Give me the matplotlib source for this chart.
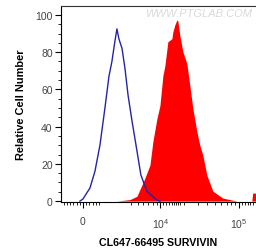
import matplotlib
matplotlib.use("Agg")
import matplotlib.pyplot as plt
import numpy as np

plt.rcParams.update({'font.family': 'Liberation Sans', 'font.size': 7,
                     'mathtext.default': 'regular'})

# isotype control (blue outline)
ctrl_x = [-185, 0, 435, 757, 1094, 1455, 1766, 2012, 2279, 2464, 2661, 2974,
          3305, 3663, 4181, 4901, 5548, 6676, 9059, 9900]
ctrl_y = [0, 1.1, 7, 16, 30, 50, 67, 75, 86, 92.5, 87, 82,
          71, 57, 43, 27, 14, 5.3, 0.5, 0]

# CL647-66495 stained (red filled)
stain_x = [2459, 3911, 4901, 5722, 6275, 7327, 8018, 9059, 9900, 10812, 11469,
           12529, 14098, 14522, 15412, 16345, 16833, 17850, 19504, 21921, 23914,
           26118, 29341, 32054, 34980, 39326, 46852, 62688, 94276, 146000,
           150000, 155000, 165000]
stain_y = [0, 0.8, 2.6, 8.6, 12.3, 19.3, 32, 44.4, 51.3, 67.4, 72.7,
           85.6, 87.2, 90.9, 94.7, 97.3, 96.8, 88.8, 80.2, 73.8, 62,
           49.7, 37.4, 29.9, 24.6, 13.9, 5.3, 1.6, 0, 0,
           4.3, 4.3, 4.3]

W = 2120.0
def fwd(x):
    return np.arcsinh(np.asarray(x) / W) / np.log(10)
def inv(y):
    return W * np.sinh(np.asarray(y) * np.log(10))

fig = plt.figure(figsize=(2.56, 2.51), dpi=100)
ax = fig.add_axes([61/256, 48/251, 195/256, 196/251])
ax.set_xscale('function', functions=(fwd, inv))

ax.fill_between(stain_x, stain_y, 0, color='#ff0000', lw=0)
ax.plot(ctrl_x, ctrl_y, color='#2424a8', lw=1.0)

ax.set_xlim(-1452, 165000)
ax.set_ylim(-0.5, 104.8)

ax.set_xticks([0, 1e4, 1e5])
ax.set_xticklabels(['0', '$10^4$', '$10^5$'])
minor = list(range(-1200, 1001, 200)) + [2000*i/2 for i in range(4, 19)] + \
        [10000*i for i in range(2, 10)] + [1e5 + 10000*i for i in range(1, 6)]
ax.set_xticks(minor, minor=True)
ax.set_yticks(range(0, 101, 20))
ax.set_yticks(range(0, 101, 5), minor=True)

ax.tick_params(axis='both', which='major', length=4, width=0.8,
               labelcolor='#444444', labelsize=7.5, pad=2)
ax.tick_params(axis='both', which='minor', length=2, width=0.6)
ax.tick_params(axis='x', which='major', pad=6)

ax.spines['right'].set_visible(False)
ax.spines['top'].set_color('#333333')

ax.set_xlabel('CL647-66495 SURVIVIN', fontweight='bold', fontsize=7.7, labelpad=5)
ax.set_ylabel('Relative Cell Number', fontweight='bold', fontsize=7.9, labelpad=7)

ax.text(0.98, 0.965, 'WWW.PTGLAB.COM', transform=ax.transAxes, ha='right',
        va='center', color='#dadada', fontsize=8, style='italic')

fig.savefig('out.png', dpi=100)
